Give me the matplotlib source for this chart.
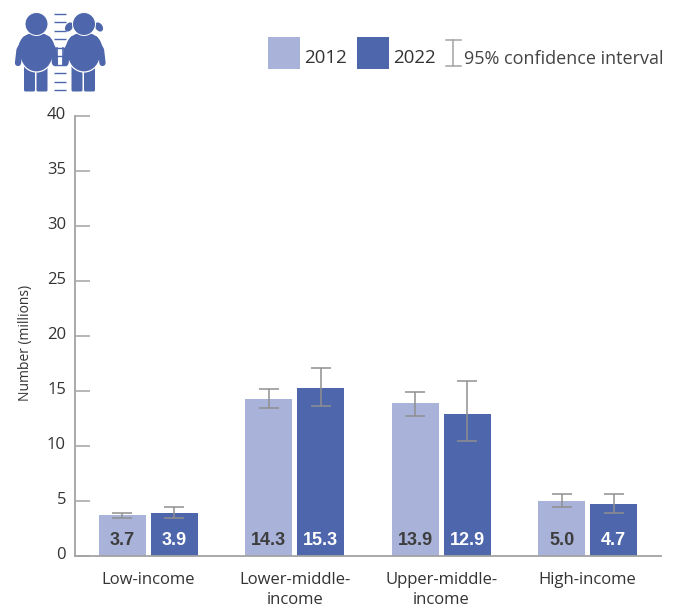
import matplotlib
matplotlib.use("Agg")
import matplotlib.pyplot as plt
from matplotlib.patches import Circle, Ellipse, FancyBboxPatch
from matplotlib.transforms import ScaledTranslation
import numpy as np

plt.rcParams['font.family'] = ['Open Sans', 'DejaVu Sans']

categories = ['Low-income', 'Lower-middle-\nincome', 'Upper-middle-\nincome', 'High-income']
values_2012 = [3.7, 14.3, 13.9, 5.0]
values_2022 = [3.9, 15.3, 12.9, 4.7]
low_2012 = [3.46, 13.4, 12.75, 4.4]
high_2012 = [3.86, 15.14, 14.9, 5.6]
low_2022 = [3.43, 13.65, 10.43, 3.9]
high_2022 = [4.4, 17.05, 15.85, 5.6]
y_ticks = [0, 5, 10, 15, 20, 25, 30, 35, 40]

light = '#a9b2d8'
dark = '#4e66ab'
grey = '#a3a3a3'
err_grey = '#8f8f8f'
text_col = '#333333'
num_font = ['Liberation Sans', 'DejaVu Sans']

W, H = 677, 607
fig = plt.figure(figsize=(W / 100, H / 100), dpi=100)

# main axes placed by pixel position
ax = fig.add_axes([75 / W, 1 - 555.7 / H, 586 / W, 439.7 / H])
x = np.arange(len(categories))
off = 0.1775
bw = 0.32

ax.bar(x - off, values_2012, bw, color=light)
ax.bar(x + off, values_2022, bw, color=dark)


def draw_err(xs, vals, lows, highs):
    yerr = [np.array(vals) - np.array(lows), np.array(highs) - np.array(vals)]
    ax.errorbar(xs, vals, yerr=yerr, fmt='none', ecolor=err_grey, elinewidth=1.1,
                capsize=7.5, capthick=1.1)


draw_err(x - off, values_2012, low_2012, high_2012)
draw_err(x + off, values_2022, low_2022, high_2022)

for i in x:
    ax.text(i - off, 1.35, f'{values_2012[i]:.1f}', ha='center', va='center',
            fontsize=13, fontweight='bold', color='#3d3d3d', family=num_font)
    ax.text(i + off, 1.35, f'{values_2022[i]:.1f}', ha='center', va='center',
            fontsize=13, fontweight='bold', color='white', family=num_font)

ax.set_xlim(-0.5, 3.5)
ax.set_ylim(0, 40)
ax.set_yticks(y_ticks)
ax.set_xticks(x)
ax.set_xticklabels(categories, fontsize=12, color=text_col, linespacing=1.3)
ax.tick_params(axis='x', length=0, pad=12)
ax.tick_params(axis='y', direction='in', length=11, width=1.1, color=grey, pad=6.5,
               labelsize=12, labelcolor=text_col)
for t in ax.get_yticklabels():
    t.set_verticalalignment('bottom')
    t.set_transform(t.get_transform() + ScaledTranslation(0, -5 / 72, fig.dpi_scale_trans))
ax.set_ylabel('Number (millions)', fontsize=10, color=text_col, labelpad=0)
ax.yaxis.set_label_coords(-42 / 586, 0.485)
for s in ['top', 'right']:
    ax.spines[s].set_visible(False)
for s in ['left', 'bottom']:
    ax.spines[s].set_color(grey)
    ax.spines[s].set_linewidth(1.3)

# overlay in pixel coordinates for legend and icon
ov = fig.add_axes([0, 0, 1, 1], facecolor='none')
ov.set_xlim(0, W)
ov.set_ylim(H, 0)
ov.axis('off')

ov.add_patch(plt.Rectangle((268, 37), 32, 32, color=light, lw=0))
ov.add_patch(plt.Rectangle((357, 37), 32, 32, color=dark, lw=0))
ov.text(304, 58, '2012', fontsize=13.5, color=text_col, va='center')
ov.text(393, 58, '2022', fontsize=13.5, color=text_col, va='center')
ov.plot([453, 453], [40, 66], color=grey, lw=1.1)
ov.plot([446, 461], [40, 40], color=grey, lw=1.1)
ov.plot([446, 461], [66, 66], color=grey, lw=1.1)
ov.text(464, 59, '95% confidence interval', fontsize=13, color='#444444', va='center')

# icon: ruler between two children
for yy in np.linspace(14, 90, 10):
    ov.plot([54, 66], [yy, yy], color=dark, lw=1.0, solid_capstyle='butt')
ov.plot([57, 57], [48, 65], color=dark, lw=1.2)
ov.plot([63, 63], [48, 65], color=dark, lw=1.2)


def child(cx, head_y, pigtails=False):
    if pigtails:
        ov.add_patch(Ellipse((cx - 15, head_y + 3), 7, 10, angle=35, color=dark, lw=0))
        ov.add_patch(Ellipse((cx + 15, head_y + 3), 7, 10, angle=-35, color=dark, lw=0))
    # legs
    for lx in [cx - 11, cx + 1.5]:
        ov.add_patch(FancyBboxPatch((lx, 64), 8, 26, boxstyle='round,pad=1.5', color=dark, lw=0))
    # arms
    for side in [-1, 1]:
        ov.plot([cx + side * 11, cx + side * 17, cx + side * 18.5], [39, 50, 63], color=dark, lw=4.5,
                solid_capstyle='round', solid_joinstyle='round')
    # belly with white outline, shoulders over its top
    ov.add_patch(Ellipse((cx, 54), 33, 36, facecolor=dark, edgecolor='white', lw=0.9))
    ov.add_patch(Ellipse((cx, 46), 35, 27, facecolor=dark, edgecolor='none'))
    ov.add_patch(Circle((cx, head_y), 11.5, facecolor=dark, edgecolor='white', lw=0.7))


child(36.5, 24)
child(84, 24, pigtails=True)

fig.savefig('out.png', dpi=100)
